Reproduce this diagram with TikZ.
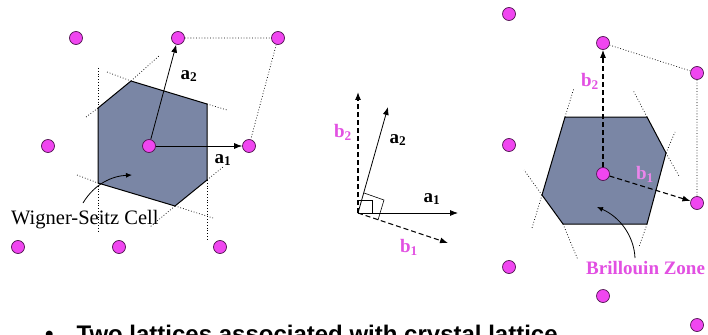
\documentclass[tikz,border=0pt]{standalone}
\usepackage{fontspec}
\setmainfont{Liberation Serif}
\newfontfamily\sansbold{Liberation Sans}
\usetikzlibrary{arrows.meta,backgrounds}
\definecolor{dotmag}{RGB}{240,70,240}
\definecolor{dotedge}{RGB}{80,20,80}
\definecolor{cellfill}{RGB}{122,134,165}
\definecolor{labmag}{RGB}{226,80,226}
\begin{document}
\begin{tikzpicture}[x=1pt,y=-1pt,
  site/.style={circle,fill=dotmag,draw=dotedge,line width=0.7pt,minimum size=13pt,inner sep=0pt},
  bisect/.style={line width=0.7pt,dash pattern=on 0.8pt off 2pt},
  cellbox/.style={fill=cellfill,draw=black,line width=1pt,line join=round},
  vec/.style={-{Latex[length=8pt,width=6pt]},line width=0.8pt},
  rvec/.style={vec,dash pattern=on 5pt off 3pt,line width=1.1pt},
  lab/.style={font=\bfseries\fontsize{19}{19}\selectfont,inner sep=0pt},
  rlab/.style={lab,text=labmag},
  bigtxt/.style={font=\fontsize{20.5}{20.5}\selectfont,inner sep=0pt,anchor=west}]
\useasboundingbox (0,0) rectangle (708,334);
\clip (0,0) rectangle (708,334);

% ---------- left lattice sites
\node[site] (L1) at (76,38) {};
\node[site] (L2) at (178,38) {};
\node[site] (L3) at (278,38) {};
\node[site] (L4) at (48,146) {};
\node[site] (L5) at (149,146) {};
\node[site] (L6) at (249,146) {};
\node[site] (L7) at (18,247) {};
\node[site] (L8) at (119,247) {};
\node[site] (L9) at (220,247) {};

% ---------- right lattice sites
\node[site] (R1) at (509,14) {};
\node[site] (R2) at (603,43) {};
\node[site] (R3) at (697,73) {};
\node[site] (R4) at (509,145) {};
\node[site] (R5) at (603,174) {};
\node[site] (R6) at (697,203) {};
\node[site] (R7) at (509,267) {};
\node[site] (R8) at (603,296) {};
\node[site] (R9) at (697,325) {};

\begin{pgfonlayer}{background}
\fill[white] (0,0) rectangle (708,334);
% left bisectors
\draw[bisect] (98,68) -- (98,108);
\draw[bisect] (98,183) -- (98,232);
\draw[bisect] (207,180) -- (207,240);
\draw[bisect] (107,72) -- (131,81);
\draw[bisect] (207,104) -- (227,110);
\draw[bisect] (86,117) -- (98,108);
\draw[bisect] (131,81) -- (160,55);
\draw[bisect] (77,175) -- (98,183);
\draw[bisect] (175,206) -- (213,218);
\draw[bisect] (207,180) -- (223,167);
\draw[bisect] (175,206) -- (150,227);
\draw[bisect] (L2) -- (L3) -- (L6);
% left cell
\draw[cellbox] (98,108) -- (131,81) -- (207,104) -- (207,180) -- (175,206) -- (98,183) -- cycle;
% right bisectors
\draw[bisect] (565,117) -- (574,88);
\draw[bisect] (647,117) -- (633,90);
\draw[bisect] (666,153) -- (675,132);
\draw[bisect] (647,224) -- (639,247);
\draw[bisect] (666,153) -- (679,176);
\draw[bisect] (542,195) -- (532,228);
\draw[bisect] (542,195) -- (524,170);
\draw[bisect] (563,224) -- (578,260);
\draw[bisect] (R2) -- (R3) -- (R6);
% right cell
\draw[cellbox] (565,117) -- (647,117) -- (666,153) -- (647,224) -- (563,224) -- (542,195) -- cycle;
\end{pgfonlayer}

% ---------- left vectors and labels
\draw[vec] (L5) -- (L6);
\draw[vec] (L5) -- (L2);
\node[lab] (la2) at (189,76) {a\textsubscript{2}};
\node[lab] (la1) at (223,160) {a\textsubscript{1}};
\node[bigtxt] (ws) at (11,220) {Wigner-Seitz Cell};
\coordinate (wsTail) at (83,203);
\coordinate (wsHead) at (132,175);
\draw[-{Latex[length=6pt,width=5pt]},line width=0.8pt] (wsTail) .. controls (95,183) and (113,176) .. (wsHead);

% ---------- middle vectors
\coordinate (O) at (358,213);
\coordinate (A1) at (458,213);
\coordinate (A2) at (388,107);
\coordinate (B2) at (358,92);
\coordinate (B1) at (448,243);
\draw[vec] (O) -- (A1);
\draw[vec] (O) -- (A2);
\draw[rvec] (O) -- (B2);
\draw[rvec] (O) -- (B1);
\draw[line width=0.6pt] (358,200) -- (372,200) -- (372,213);
\draw[line width=0.6pt] (364,193) -- (384,200) -- (378,220);
\node[lab] (ma1) at (432,199) {a\textsubscript{1}};
\node[lab] (ma2) at (398,140) {a\textsubscript{2}};
\node[rlab] (mb2) at (343,132) {b\textsubscript{2}};
\node[rlab] (mb1) at (409,247) {b\textsubscript{1}};

% ---------- right vectors and labels
\draw[rvec] (R5) -- (R2);
\draw[rvec] (R5) -- (R6);
\node[rlab] (rb2) at (590,81) {b\textsubscript{2}};
\node[rlab,text=labmag!70] (rb1) at (645,174) {b\textsubscript{1}};
\node[bigtxt,text=labmag,font=\bfseries\fontsize{19}{19}\selectfont] (bz) at (586,268) {Brillouin Zone};
\coordinate (bzTail) at (635,258);
\coordinate (bzHead) at (597,207);
\draw[-{Latex[length=6pt,width=5pt]},line width=0.8pt] (bzTail) .. controls (634,236) and (620,217) .. (bzHead);

% ---------- bottom text
\node[anchor=base west,inner sep=0pt,font=\sansbold\bfseries\fontsize{24}{24}\selectfont] (bt) at (45,342) {\textbullet\hspace{23pt}Two lattices associated with crystal lattice};
\end{tikzpicture}
\end{document}
